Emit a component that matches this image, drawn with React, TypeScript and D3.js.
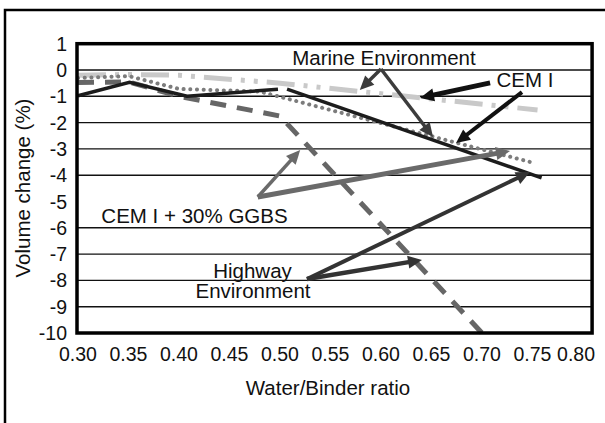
import React from "react";
import * as d3 from "d3";

// ---- data ----
const xTicks = [0.3, 0.35, 0.4, 0.45, 0.5, 0.55, 0.6, 0.65, 0.7, 0.75, 0.8];
const yTicks = [1, 0, -1, -2, -3, -4, -5, -6, -7, -8, -9, -10];
const gridValues = [0, -1, -2, -3, -4, -6, -7, -8, -9];

// CEM I marine (solid, two pieces)
const solidA: [number, number][] = [[0.3, -0.98], [0.351, -0.47], [0.408, -1.0], [0.498, -0.73]];
const solidB: [number, number][] = [[0.507, -0.73], [0.759, -4.1]];
// dotted series
const dotted: [number, number][] = [[0.3, -0.3], [0.35, -0.23], [0.4, -0.72], [0.48, -0.82], [0.75, -3.52]];
// light grey dash-dot series
const lightDashDot: [number, number][] = [[0.3, -0.2], [0.35, -0.17], [0.4, -0.2], [0.5, -0.5], [0.755, -1.52]];
// dark grey dashed series
const dashed: [number, number][] = [[0.3, -0.48], [0.35, -0.45], [0.4, -1.0], [0.5, -1.75], [0.7, -10]];

// annotation arrows, in data units: from -> to
const arrowFrom = [
  [0.6, 0.04], [0.6, 0.04],
  [0.708, -0.49], [0.7396, -0.84],
  [0.478, -4.83], [0.478, -4.83],
  [0.5267, -7.95], [0.5267, -7.95],
];
const arrowTo = [
  [0.579, -0.76], [0.6515, -2.55],
  [0.6386, -1.06], [0.6743, -2.78],
  [0.52, -3.04], [0.7277, -3.08],
  [0.6406, -7.22], [0.7475, -3.88],
];
const arrowColor = ["#3c3c3c", "#3c3c3c", "#111", "#111", "#6a6a6a", "#6a6a6a", "#333", "#333"];
const arrowWidth = [3.5, 3.5, 5, 4, 3.5, 5, 4.5, 4];

const FONT = "'Liberation Sans', Arial, sans-serif";

export default function App() {
  const x = d3.scaleLinear().domain([0.3, 0.8]).range([78, 583]);
  const y = d3.scaleLinear().domain([-10, 1]).range([333, 43.7]);
  const line = d3.line<[number, number]>().x((d) => x(d[0])).y((d) => y(d[1]));

  const left = x(0.3) - 1;
  const right = x(0.809);
  const top = y(1);
  const bottom = y(-10);

  const arrows = arrowFrom.map((f, i) => {
    const x1 = x(f[0]), y1 = y(f[1]);
    const x2 = x(arrowTo[i][0]), y2 = y(arrowTo[i][1]);
    const dx = x2 - x1, dy = y2 - y1;
    const len = Math.hypot(dx, dy);
    const ux = dx / len, uy = dy / len;
    const hl = 14, hw = 6.5;
    const bx = x2 - ux * hl, by = y2 - uy * hl;
    const pts = [
      [x2, y2],
      [bx - uy * hw, by + ux * hw],
      [bx + uy * hw, by - ux * hw],
    ];
    return (
      <g key={i}>
        <line x1={x1} y1={y1} x2={bx + ux * 2} y2={by + uy * 2} stroke={arrowColor[i]} strokeWidth={arrowWidth[i]} />
        <polygon points={pts.map((p) => p.join(",")).join(" ")} fill={arrowColor[i]} />
      </g>
    );
  });

  return (
    <svg width={605} height={423} style={{ position: "absolute", left: 0, top: 0, background: "#fff" }} fontFamily={FONT}>
      <rect x={0} y={0} width={605} height={423} fill="#fff" />
      {/* outer frame */}
      <rect x={5} y={10} width={620} height={430} fill="none" stroke="#000" strokeWidth={2.5} />

      {/* gridlines */}
      {gridValues.map((v) => (
        <line key={v} x1={left} x2={right} y1={y(v)} y2={y(v)} stroke="#111" strokeWidth={1.4} />
      ))}

      {/* series */}
      <path d={line(lightDashDot) || ""} fill="none" stroke="#c9c9c9" strokeWidth={5} strokeDasharray="28 9 4 9 4 9" />
      <path d={line(dashed) || ""} fill="none" stroke="#666" strokeWidth={5} strokeDasharray="16 11" />
      <path d={line(dotted) || ""} fill="none" stroke="#7c7c7c" strokeWidth={4} strokeDasharray="0.1 6.6" strokeLinecap="round" />
      <path d={line(solidA) || ""} fill="none" stroke="#1c1c1c" strokeWidth={3.5} />
      <path d={line(solidB) || ""} fill="none" stroke="#1c1c1c" strokeWidth={3.5} />

      {/* plot frame */}
      <rect x={left} y={top} width={right - left} height={bottom - top} fill="none" stroke="#000" strokeWidth={3.5} />

      {/* arrows */}
      {arrows}

      {/* y ticks */}
      {yTicks.map((v) => (
        <text key={v} x={67} y={y(v)} dy="0.36em" textAnchor="end" fontSize={19.5} fill="#111">
          {v}
        </text>
      ))}
      {/* x ticks */}
      {xTicks.map((v, i) => (
        <text
          key={v}
          x={i === xTicks.length - 1 ? x(v) + 12 : x(v)}
          y={361}
          textAnchor={i === xTicks.length - 1 ? "end" : "middle"}
          fontSize={19.5}
          fill="#111"
        >
          {v.toFixed(2)}
        </text>
      ))}

      {/* axis titles */}
      <text x={328} y={395} textAnchor="middle" fontSize={20.5} fill="#111">Water/Binder ratio</text>
      <text transform="translate(30,188) rotate(-90)" textAnchor="middle" fontSize={20.5} fill="#111">Volume change (%)</text>

      {/* annotations */}
      <text x={384} y={65} textAnchor="middle" fontSize={20.5} fill="#111">Marine Environment</text>
      <text x={525} y={87} textAnchor="middle" fontSize={20.5} fill="#111">CEM I</text>
      <text x={194.5} y={223} textAnchor="middle" fontSize={20.5} fill="#111">CEM I + 30% GGBS</text>
      <text x={252.5} y={278} textAnchor="middle" fontSize={20.5} fill="#111">Highway</text>
      <text x={253} y={298} textAnchor="middle" fontSize={20.5} fill="#111">Environment</text>
    </svg>
  );
}
